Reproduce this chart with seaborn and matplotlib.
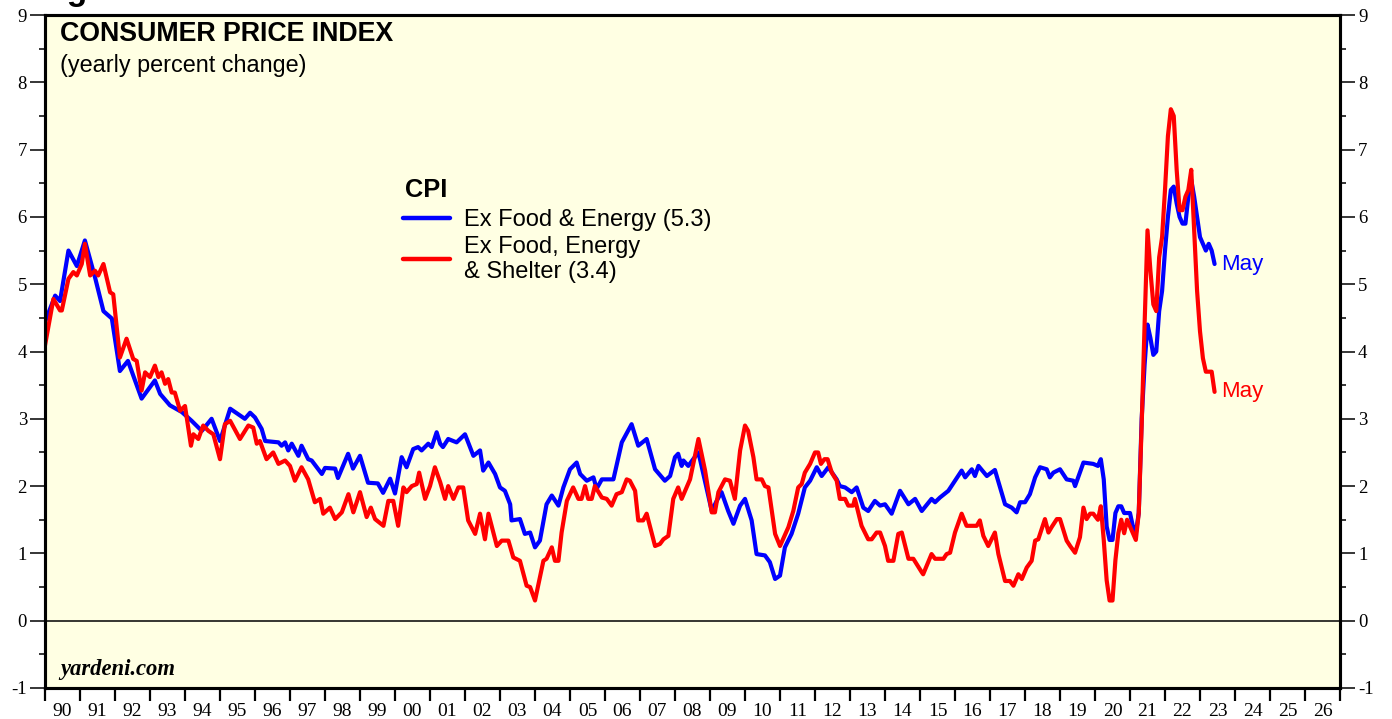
import numpy as np
import pandas as pd
import matplotlib
matplotlib.use("Agg")
import matplotlib.pyplot as plt
import seaborn as sns
from matplotlib.ticker import FixedLocator, FixedFormatter, MultipleLocator

# ---- data (decimal year, yearly % change) ----
# CPI ex food & energy, 1990-2019
core_years = [1990.00, 1990.29, 1990.43, 1990.67, 1990.91, 1991.14, 1991.43, 1991.67, 1991.91,
              1992.14, 1992.37, 1992.76, 1993.14, 1993.29, 1993.57, 1993.91, 1994.19, 1994.48,
              1994.76, 1995.00, 1995.29, 1995.71, 1995.86, 1996.00, 1996.19, 1996.29, 1996.67,
              1996.76, 1996.86, 1996.95, 1997.05, 1997.24, 1997.33, 1997.52,
              1997.62, 1997.91, 1998.00, 1998.29, 1998.37, 1998.66, 1998.80, 1999.00, 1999.23,
              1999.51, 1999.66, 1999.86, 2000.00, 2000.19, 2000.33, 2000.52, 2000.66, 2000.76,
              2000.95, 2001.05, 2001.19, 2001.29, 2001.37, 2001.52, 2001.76, 2002.00, 2002.24,
              2002.43, 2002.52, 2002.67, 2002.86, 2003.00, 2003.14, 2003.29, 2003.33, 2003.57,
              2003.71, 2003.86, 2004.00, 2004.14, 2004.33, 2004.48, 2004.67, 2004.81, 2005.00,
              2005.19, 2005.29, 2005.48, 2005.67, 2005.76, 2005.91, 2006.24, 2006.48, 2006.76,
              2006.95, 2007.19, 2007.43, 2007.71, 2007.86, 2008.00, 2008.09, 2008.19, 2008.24,
              2008.38, 2008.52, 2008.67, 2009.05, 2009.19, 2009.33, 2009.52, 2009.67, 2009.86,
              2010.00, 2010.19, 2010.33, 2010.57, 2010.71, 2010.86, 2011.00, 2011.14, 2011.33,
              2011.52, 2011.71, 2011.86, 2012.05, 2012.19, 2012.38, 2012.62, 2012.71, 2012.86,
              2013.05, 2013.19, 2013.38, 2013.52, 2013.71, 2013.86, 2014.00, 2014.19, 2014.43,
              2014.67, 2014.86, 2015.05, 2015.33, 2015.43, 2015.57, 2015.81, 2016.00, 2016.19,
              2016.29, 2016.48, 2016.57, 2016.67, 2016.91, 2017.14, 2017.43, 2017.62, 2017.76,
              2017.86, 2018.00, 2018.14, 2018.29, 2018.43, 2018.62, 2018.71, 2018.81, 2019.00,
              2019.19, 2019.38, 2019.43, 2019.52, 2019.67, 2019.95]
core_vals = [4.44, 4.83, 4.75, 5.50, 5.27, 5.65, 5.10, 4.60, 4.49,
             3.71, 3.86, 3.30, 3.57, 3.37, 3.20, 3.10, 2.97, 2.82,
             3.00, 2.67, 3.15, 3.00, 3.09, 3.02, 2.85, 2.67, 2.65,
             2.60, 2.65, 2.53, 2.63, 2.45, 2.60, 2.40,
             2.38, 2.18, 2.27, 2.26, 2.12, 2.48, 2.26, 2.45, 2.05,
             2.04, 1.90, 2.11, 1.89, 2.43, 2.28, 2.55, 2.58, 2.53,
             2.63, 2.58, 2.80, 2.63, 2.58, 2.70, 2.65, 2.77, 2.45,
             2.53, 2.23, 2.35, 2.18, 1.98, 1.93, 1.73, 1.49, 1.51,
             1.29, 1.31, 1.09, 1.19, 1.73, 1.86, 1.71, 1.98, 2.25,
             2.35, 2.18, 2.08, 2.13, 1.96, 2.10, 2.10, 2.65, 2.92,
             2.60, 2.70, 2.25, 2.08, 2.15, 2.43, 2.48, 2.30, 2.38,
             2.30, 2.40, 2.50, 1.63, 1.78, 1.91, 1.63, 1.44, 1.71,
             1.81, 1.49, 0.99, 0.97, 0.87, 0.62, 0.67, 1.09, 1.29,
             1.59, 1.98, 2.08, 2.28, 2.15, 2.28, 2.10, 2.00, 1.98,
             1.91, 1.98, 1.68, 1.63, 1.78, 1.71, 1.73, 1.59, 1.93,
             1.73, 1.81, 1.63, 1.81, 1.76, 1.83, 1.93, 2.08, 2.23,
             2.13, 2.25, 2.15, 2.30, 2.15, 2.24, 1.73, 1.68, 1.61,
             1.76, 1.76, 1.88, 2.13, 2.28, 2.25, 2.13, 2.20, 2.25,
             2.10, 2.08, 2.00, 2.13, 2.35, 2.33]

# CPI ex food, energy & shelter, 1990-2019
exsh_years = [1990.00, 1990.24, 1990.43, 1990.48, 1990.67, 1990.81, 1990.91, 1991.05, 1991.14,
              1991.29, 1991.43, 1991.52, 1991.67, 1991.86, 1991.95, 1992.14, 1992.33, 1992.52,
              1992.62, 1992.76, 1992.86, 1993.00, 1993.14, 1993.24, 1993.33, 1993.43, 1993.52,
              1993.62, 1993.71, 1993.86, 1994.00, 1994.17, 1994.24, 1994.38, 1994.52, 1994.67,
              1994.81, 1995.00, 1995.14, 1995.29, 1995.57, 1995.81, 1995.95, 1996.05, 1996.14,
              1996.33, 1996.52, 1996.67, 1996.86, 1997.00, 1997.14, 1997.33, 1997.52, 1997.71,
              1997.86, 1997.95, 1998.14, 1998.29, 1998.48, 1998.67, 1998.81, 1999.00, 1999.19,
              1999.31, 1999.43, 1999.67, 1999.81, 1999.95, 2000.09, 2000.24, 2000.33, 2000.48,
              2000.62, 2000.69, 2000.86, 2001.00, 2001.14, 2001.29, 2001.43, 2001.52, 2001.67,
              2001.81, 2001.95, 2002.09, 2002.29, 2002.43, 2002.57, 2002.67, 2002.91, 2003.05,
              2003.24, 2003.38, 2003.57, 2003.76, 2003.86, 2004.00, 2004.24, 2004.33, 2004.48,
              2004.57, 2004.67, 2004.76, 2004.91, 2005.09, 2005.24, 2005.33, 2005.43, 2005.52,
              2005.62, 2005.71, 2005.91, 2006.05, 2006.19, 2006.33, 2006.48, 2006.62, 2006.71,
              2006.86, 2006.95, 2007.09, 2007.19, 2007.43, 2007.57, 2007.67, 2007.81, 2007.95,
              2008.09, 2008.19, 2008.43, 2008.67, 2008.86, 2009.05, 2009.14, 2009.24, 2009.43,
              2009.57, 2009.71, 2009.86, 2010.00, 2010.09, 2010.24, 2010.33, 2010.48, 2010.57,
              2010.67, 2010.86, 2011.00, 2011.24, 2011.38, 2011.52, 2011.62, 2011.71, 2011.86,
              2012.00, 2012.09, 2012.17, 2012.27, 2012.36, 2012.48, 2012.62, 2012.71, 2012.86,
              2012.95, 2013.09, 2013.14, 2013.33, 2013.52, 2013.62, 2013.76, 2013.86, 2014.00,
              2014.09, 2014.24, 2014.38, 2014.48, 2014.67, 2014.81, 2015.05, 2015.09, 2015.33,
              2015.43, 2015.67, 2015.76, 2015.86, 2016.00, 2016.19, 2016.33, 2016.62, 2016.71,
              2016.81, 2016.95, 2017.14, 2017.24, 2017.43, 2017.57, 2017.67, 2017.81, 2017.91,
              2018.05, 2018.19, 2018.29, 2018.38, 2018.57, 2018.67, 2018.76, 2018.91, 2019.00,
              2019.19, 2019.29, 2019.43, 2019.57, 2019.67, 2019.76, 2019.86, 2019.95]
exsh_vals = [4.09, 4.78, 4.61, 4.61, 5.08, 5.18, 5.13, 5.30, 5.60,
             5.13, 5.20, 5.13, 5.30, 4.88, 4.85, 3.91, 4.19, 3.89,
             3.86, 3.42, 3.69, 3.62, 3.79, 3.62, 3.69, 3.52, 3.59,
             3.39, 3.39, 3.12, 3.19, 2.60, 2.77, 2.70, 2.90, 2.82,
             2.77, 2.40, 2.92, 2.97, 2.70, 2.90, 2.87, 2.63, 2.67,
             2.40, 2.50, 2.33, 2.38, 2.30, 2.08, 2.28, 2.10, 1.76,
             1.81, 1.59, 1.68, 1.51, 1.61, 1.88, 1.61, 1.91, 1.54,
             1.68, 1.51, 1.41, 1.78, 1.78, 1.41, 1.98, 1.91, 2.00,
             2.03, 2.20, 1.81, 2.00, 2.28, 2.06, 1.81, 2.00, 1.81,
             1.98, 1.98, 1.49, 1.29, 1.59, 1.21, 1.59, 1.11, 1.19,
             1.19, 0.94, 0.89, 0.52, 0.50, 0.30, 0.89, 0.92, 1.09,
             0.89, 0.89, 1.31, 1.78, 1.98, 1.81, 1.81, 2.00, 1.81,
             1.81, 2.00, 1.83, 1.81, 1.71, 1.88, 1.91, 2.10, 2.08,
             1.93, 1.49, 1.49, 1.59, 1.11, 1.14, 1.21, 1.26, 1.81,
             1.98, 1.81, 2.10, 2.70, 2.23, 1.61, 1.61, 1.91, 2.10,
             2.08, 1.81, 2.53, 2.90, 2.82, 2.43, 2.10, 2.10, 2.00,
             1.98, 1.29, 1.11, 1.39, 1.63, 1.98, 2.03, 2.20, 2.33,
             2.50, 2.50, 2.33, 2.40, 2.40, 2.20, 2.08, 1.81, 1.81,
             1.71, 1.71, 1.81, 1.41, 1.21, 1.21, 1.31, 1.31, 1.11,
             0.89, 0.89, 1.29, 1.31, 0.92, 0.92, 0.72, 0.69, 0.99,
             0.92, 0.92, 0.99, 1.01, 1.31, 1.59, 1.41, 1.41, 1.49,
             1.26, 1.11, 1.31, 0.99, 0.59, 0.59, 0.52, 0.69, 0.62,
             0.79, 0.89, 1.19, 1.21, 1.51, 1.31, 1.39, 1.51, 1.51,
             1.19, 1.11, 1.01, 1.24, 1.68, 1.51, 1.59, 1.59]

# monthly readings, Jan 2020 - May 2023
core_monthly = [2.3, 2.4, 2.1, 1.4, 1.2, 1.2, 1.6, 1.7, 1.7, 1.6, 1.6, 1.6,
                1.4, 1.3, 1.6, 3.0, 3.8, 4.4, 4.2, 3.95, 4.0, 4.6, 4.9, 5.5,
                6.0, 6.4, 6.45, 6.2, 6.0, 5.9, 5.9, 6.3, 6.55, 6.3, 6.0, 5.7,
                5.6, 5.5, 5.6, 5.5, 5.3]
exsh_monthly = [1.5, 1.7, 1.2, 0.6, 0.3, 0.3, 0.9, 1.3, 1.5, 1.3, 1.5, 1.4,
                1.3, 1.2, 1.6, 2.9, 4.4, 5.8, 5.2, 4.7, 4.6, 5.4, 5.7, 6.4,
                7.2, 7.6, 7.5, 6.7, 6.1, 6.1, 6.3, 6.4, 6.7, 5.8, 4.9, 4.3,
                3.9, 3.7, 3.7, 3.7, 3.4]

series_names = ["Ex Food & Energy (5.3)", "Ex Food, Energy\n& Shelter (3.4)"]
year_labels = [f"{y % 100:02d}" for y in range(1990, 2027)]

# ---- build frame ----
month_x = 2020 + np.arange(1, len(core_monthly) + 1) / 12.0  # plotted at month end
df = pd.concat([
    pd.DataFrame({"year": np.r_[core_years, month_x], "value": core_vals + core_monthly,
                  "series": series_names[0]}),
    pd.DataFrame({"year": np.r_[exsh_years, month_x], "value": exsh_vals + exsh_monthly,
                  "series": series_names[1]}),
])

sns.set_style("ticks")
plt.rcParams['font.family'] = ['Liberation Sans', 'DejaVu Sans']
plt.rcParams['axes.unicode_minus'] = False
for k in ["text.color", "axes.labelcolor", "xtick.color", "ytick.color", "axes.edgecolor"]:
    plt.rcParams[k] = "black"

fig = plt.figure(figsize=(13.92, 7.19), dpi=100)
ax = fig.add_axes([45 / 1392, 31 / 719, 1295 / 1392, 673 / 719])
ax.set_facecolor('#ffffe3')

sns.lineplot(data=df, x="year", y="value", hue="series", hue_order=series_names,
             palette=["#0000ff", "#ff0000"], estimator=None, linewidth=3.0, ax=ax)
ax.axhline(0, color="black", lw=1.1, zorder=1)

ax.set_xlim(1990, 2027)
ax.set_ylim(-1, 9)
ax.set_xlabel("")
ax.set_ylabel("")

# x axis: year ticks, labels centred between them
ax.xaxis.set_major_locator(FixedLocator(np.arange(1990, 2028)))
ax.xaxis.set_major_formatter(FixedFormatter([""] * 38))
ax.xaxis.set_minor_locator(FixedLocator(np.arange(1990.5, 2027, 1)))
ax.xaxis.set_minor_formatter(FixedFormatter(year_labels))
ax.tick_params(axis="x", which="major", direction="out", length=9, width=1.6)
ax.tick_params(axis="x", which="minor", length=0, pad=10.5, labelsize=14,
               labelfontfamily="Liberation Serif")

# y axes on both sides
ax.yaxis.set_major_locator(MultipleLocator(1))
ax.yaxis.set_minor_locator(MultipleLocator(0.5))
ax.tick_params(axis="y", which="major", direction="out", length=11, width=1.1, pad=2,
               labelsize=13.5, labelfontfamily="Liberation Serif")
ax.tick_params(axis="y", which="minor", direction="out", length=4.5, width=1.1)

ax2 = ax.twinx()
ax2.set_ylim(-1, 9)
ax2.yaxis.set_major_locator(MultipleLocator(1))
ax2.yaxis.set_minor_locator(MultipleLocator(0.5))
ax2.tick_params(axis="y", which="major", direction="out", length=11, width=1.1, pad=2,
                labelsize=13.5, labelfontfamily="Liberation Serif")
ax2.tick_params(axis="y", which="minor", direction="out", length=4.5, width=1.1)

for a in (ax, ax2):
    for s in a.spines.values():
        s.set_linewidth(2.2)
        s.set_color("black")

# titles
ax.text(0.0116, 0.972, "CONSUMER PRICE INDEX", transform=ax.transAxes,
        fontsize=19.3, fontweight="bold", va="center", ha="left")
ax.text(0.0116, 0.925, "(yearly percent change)", transform=ax.transAxes,
        fontsize=16.8, va="center", ha="left")
ax.text(0.0116, 0.027, "yardeni.com", transform=ax.transAxes, fontsize=16.3,
        fontweight="bold", fontstyle="italic", family="Liberation Serif", va="center")
fig.text(37 / 1392, 1.0, "Figure 1.", fontsize=24, fontweight="bold", va="baseline")

# end labels
ax.text(month_x[-1] + 0.2, core_monthly[-1], "May", color="#0000ff", fontsize=16, va="center")
ax.text(month_x[-1] + 0.2, exsh_monthly[-1], "May", color="#ff0000", fontsize=16, va="center")

# legend: title drawn as text, entries through the legend
ax.text(0.2779, 0.740, "CPI", transform=ax.transAxes, fontsize=18.3,
        fontweight="bold", va="center", ha="left")
handles = ax.get_lines()[:2]
leg = ax.legend(handles, series_names, loc="upper left",
                bbox_to_anchor=(0.2764, 0.712), frameon=False, fontsize=17,
                handlelength=2.0, handletextpad=0.6, labelspacing=0.2,
                borderpad=0, borderaxespad=0)
for line in leg.get_lines():
    line.set_linewidth(3.2)

fig.savefig("out.png", dpi=100)
